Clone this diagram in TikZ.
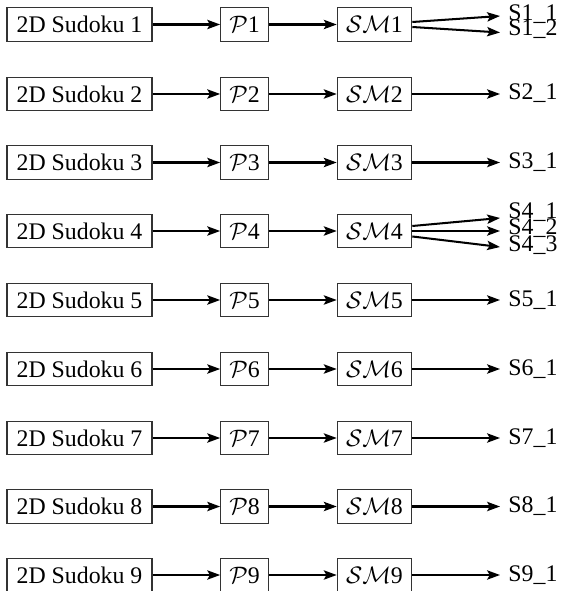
\documentclass[tikz,border=0pt]{standalone}
\usepackage{fontspec}
\setmainfont{Liberation Serif}
\usetikzlibrary{arrows.meta}
\begin{document}
\begin{tikzpicture}[x=0.42pt,y=-0.42pt,
  every node/.style={font=\fontsize{10}{12}\selectfont},
  blk/.style={draw=black!80,line width=0.45pt,inner sep=0pt,minimum height=13.9pt},
  sud/.style={blk,minimum width=60.9pt},
  perm/.style={blk,minimum width=20pt},
  sm/.style={blk,minimum width=31.3pt},
  outlbl/.style={anchor=base west,inner sep=0pt},
  flow/.style={line width=0.85pt,-{Stealth[length=5.4pt,width=3.9pt,inset=1.1pt]}}]
\useasboundingbox (0,0) rectangle (560,591);
% three stages for each of the nine puzzles
\foreach \i/\yy in {1/24.5,2/94,3/162.5,4/231,5/300,6/369,7/438,8/506.5,9/575}{
  \node[sud]  (s\i) at (79.5,\yy) {2D Sudoku \i};
  \node[perm] (p\i) at (244.5,\yy) {$\mathcal{P}$\i};
  \node[sm]   (m\i) at (374.5,\yy) {$\mathcal{SM}$\i};
  \draw[flow] (s\i) -- (p\i);
  \draw[flow] (p\i) -- (m\i);
}
% solution targets
\coordinate (t11) at (500,16);    \coordinate (t12) at (500,32.5);
\coordinate (t21) at (500,94);
\coordinate (t31) at (500,162.5);
\coordinate (t41) at (500,218);   \coordinate (t42) at (500,231);   \coordinate (t43) at (500,247);
\coordinate (t51) at (500,300);
\coordinate (t61) at (500,369);
\coordinate (t71) at (500,438);
\coordinate (t81) at (500,506.5);
\coordinate (t91) at (500,575);
% solution labels
\node[outlbl] (o11) at (508,20.5) {S1\_1};
\node[outlbl] (o12) at (508,36)   {S1\_2};
\node[outlbl] (o21) at (508,100)  {S2\_1};
\node[outlbl] (o31) at (508,168.5){S3\_1};
\node[outlbl] (o41) at (508,218.5){S4\_1};
\node[outlbl] (o42) at (508,235)  {S4\_2};
\node[outlbl] (o43) at (508,251.5){S4\_3};
\node[outlbl] (o51) at (508,306)  {S5\_1};
\node[outlbl] (o61) at (508,375)  {S6\_1};
\node[outlbl] (o71) at (508,444)  {S7\_1};
\node[outlbl] (o81) at (508,512.5){S8\_1};
\node[outlbl] (o91) at (508,581)  {S9\_1};
% connectors from the solvers to their solutions
\draw[flow] ([yshift=1.05pt]m1.east) -- (t11);
\draw[flow] ([yshift=-1.05pt]m1.east) -- (t12);
\draw[flow] (m2) -- (t21);
\draw[flow] (m3) -- (t31);
\draw[flow] ([yshift=2.1pt]m4.east) -- (t41);
\draw[flow] (m4) -- (t42);
\draw[flow] ([yshift=-2.3pt]m4.east) -- (t43);
\draw[flow] (m5) -- (t51);
\draw[flow] (m6) -- (t61);
\draw[flow] (m7) -- (t71);
\draw[flow] (m8) -- (t81);
\draw[flow] (m9) -- (t91);
\end{tikzpicture}
\end{document}
